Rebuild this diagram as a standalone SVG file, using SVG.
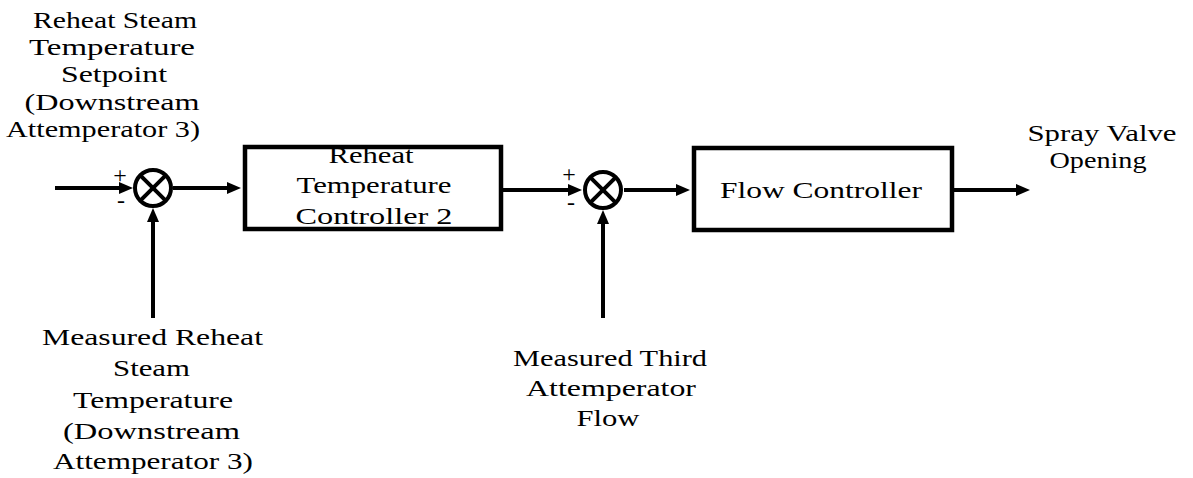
<svg xmlns="http://www.w3.org/2000/svg" width="1193" height="478" viewBox="0 0 1193 478">
<style>
.t{font-family:"Liberation Serif","Times New Roman",serif;font-size:24px;fill:#000;text-anchor:middle}
.s{font-family:"Liberation Serif","Times New Roman",serif;font-size:24px;fill:#000;text-anchor:middle}
.box{fill:#fff;stroke:#000;stroke-width:4.5}
.sum{fill:#fff;stroke:#000;stroke-width:4}
.x{stroke:#000;stroke-width:4}
.c{stroke:#000;stroke-width:4;fill:none;marker-end:url(#ah)}
</style>
<defs>
<marker id="ah" viewBox="0 0 14 12" markerWidth="14" markerHeight="12" refX="1" refY="6" orient="auto" markerUnits="userSpaceOnUse">
<path d="M0,0 L14,6 L0,12 z" fill="#000"/>
</marker>
</defs>
<rect width="1193" height="478" fill="#fff"/>
<g id="connectors">
<line class="c" x1="55" y1="188" x2="120" y2="188"/>
<line class="c" x1="173" y1="188" x2="228" y2="188"/>
<line class="c" x1="153" y1="318" x2="153" y2="221"/>
<line class="c" x1="503" y1="190" x2="569" y2="190"/>
<line class="c" x1="624" y1="190" x2="677" y2="190"/>
<line class="c" x1="603" y1="318" x2="603" y2="223"/>
<line class="c" x1="954" y1="190" x2="1017" y2="190"/>
</g>
<g id="label-setpoint">
<text class="t" x="115" y="28" textLength="164" lengthAdjust="spacingAndGlyphs">Reheat Steam</text>
<text class="t" x="112" y="55" textLength="166" lengthAdjust="spacingAndGlyphs">Temperature</text>
<text class="t" x="114" y="82" textLength="106" lengthAdjust="spacingAndGlyphs">Setpoint</text>
<text class="t" x="112" y="110" textLength="175" lengthAdjust="spacingAndGlyphs">(Downstream</text>
<text class="t" x="103" y="137" textLength="194" lengthAdjust="spacingAndGlyphs">Attemperator 3)</text>
</g>
<g id="sum1">
<circle class="sum" cx="153" cy="188" r="18"/>
<line class="x" x1="140.3" y1="175.3" x2="165.7" y2="200.7"/>
<line class="x" x1="165.7" y1="175.3" x2="140.3" y2="200.7"/>
<text class="s" x="120" y="183">+</text>
<text class="s" x="121" y="208">-</text>
</g>
<g id="label-measured-temp">
<text class="t" x="152.5" y="345" textLength="221" lengthAdjust="spacingAndGlyphs">Measured Reheat</text>
<text class="t" x="151.5" y="376" textLength="77" lengthAdjust="spacingAndGlyphs">Steam</text>
<text class="t" x="153" y="408" textLength="160" lengthAdjust="spacingAndGlyphs">Temperature</text>
<text class="t" x="151.5" y="439" textLength="177" lengthAdjust="spacingAndGlyphs">(Downstream</text>
<text class="t" x="153" y="469" textLength="200" lengthAdjust="spacingAndGlyphs">Attemperator 3)</text>
</g>
<g id="box-reheat-controller">
<rect class="box" x="245" y="147" width="256" height="82"/>
<text class="t" x="371" y="163" textLength="85" lengthAdjust="spacingAndGlyphs">Reheat</text>
<text class="t" x="374" y="193" textLength="155" lengthAdjust="spacingAndGlyphs">Temperature</text>
<text class="t" x="374" y="224" textLength="157" lengthAdjust="spacingAndGlyphs">Controller 2</text>
</g>
<g id="sum2">
<circle class="sum" cx="603" cy="190" r="18"/>
<line class="x" x1="590.3" y1="177.3" x2="615.7" y2="202.7"/>
<line class="x" x1="615.7" y1="177.3" x2="590.3" y2="202.7"/>
<text class="s" x="569" y="182">+</text>
<text class="s" x="571" y="210">-</text>
</g>
<g id="label-measured-flow">
<text class="t" x="610" y="366" textLength="194" lengthAdjust="spacingAndGlyphs">Measured Third</text>
<text class="t" x="611" y="396" textLength="170" lengthAdjust="spacingAndGlyphs">Attemperator</text>
<text class="t" x="608" y="426" textLength="63" lengthAdjust="spacingAndGlyphs">Flow</text>
</g>
<g id="box-flow-controller">
<rect class="box" x="694" y="148" width="258" height="82"/>
<text class="t" x="821" y="198" textLength="202" lengthAdjust="spacingAndGlyphs">Flow Controller</text>
</g>
<g id="label-output">
<text class="t" x="1102" y="141" textLength="149" lengthAdjust="spacingAndGlyphs">Spray Valve</text>
<text class="t" x="1098" y="168" textLength="97" lengthAdjust="spacingAndGlyphs">Opening</text>
</g>
</svg>
